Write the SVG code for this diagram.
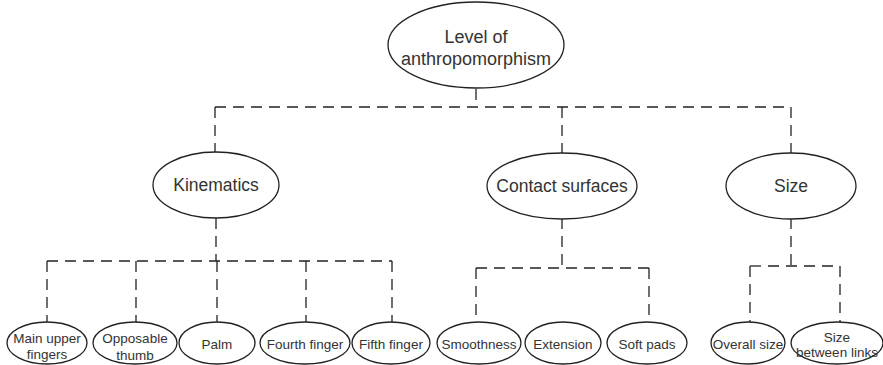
<svg xmlns="http://www.w3.org/2000/svg" width="883" height="365" viewBox="0 0 883 365">
<style>
.n{fill:#fff;stroke:#222;stroke-width:1.3}
.t{font-family:"Liberation Sans",Arial,sans-serif;fill:#333;text-anchor:middle}
.t1{font-size:18px}
.t2{font-size:17.5px}
.t3{font-size:13.5px}
.c{fill:none;stroke:#222;stroke-width:1.3;stroke-dasharray:11 7}
</style>
<rect width="883" height="365" fill="#fff"/>
<g id="connectors">
<path class="c" d="M476 89V107"/>
<path class="c" d="M215 107H791"/>
<path class="c" d="M215 107V153"/>
<path class="c" d="M562 107V153"/>
<path class="c" d="M791 107V153"/>
<path class="c" d="M216 218V261"/>
<path class="c" d="M47 261H392"/>
<path class="c" d="M47 261V323M136 261V323M217 261V323M306 261V323M392 261V323"/>
<path class="c" d="M562 218V268"/>
<path class="c" d="M476 268H649"/>
<path class="c" d="M476 268V323M649 268V323"/>
<path class="c" d="M791 218V266"/>
<path class="c" d="M750 266H840"/>
<path class="c" d="M750 266V323M840 266V323"/>
</g>
<g id="root">
<ellipse class="n" cx="476" cy="45" rx="88" ry="43"/>
<text class="t t1" x="476" y="43">Level of</text>
<text class="t t1" x="476" y="65">anthropomorphism</text>
</g>
<g id="kinematics">
<ellipse class="n" cx="216" cy="185" rx="63" ry="33"/>
<text class="t t2" x="216" y="191">Kinematics</text>
</g>
<g id="contact">
<ellipse class="n" cx="562" cy="186" rx="75" ry="33"/>
<text class="t t2" x="562" y="192">Contact surfaces</text>
</g>
<g id="size">
<ellipse class="n" cx="791" cy="186" rx="65" ry="33"/>
<text class="t t2" x="791" y="192">Size</text>
</g>
<g id="main-upper">
<ellipse class="n" cx="47" cy="343" rx="40" ry="21"/>
<text class="t t3" x="47" y="343">Main upper</text>
<text class="t t3" x="47" y="359">fingers</text>
</g>
<g id="opposable">
<ellipse class="n" cx="135" cy="343" rx="42" ry="21"/>
<text class="t t3" x="135" y="343">Opposable</text>
<text class="t t3" x="135" y="360">thumb</text>
</g>
<g id="palm">
<ellipse class="n" cx="217" cy="343" rx="38" ry="21"/>
<text class="t t3" x="217" y="349">Palm</text>
</g>
<g id="fourth">
<ellipse class="n" cx="305" cy="343" rx="45" ry="21"/>
<text class="t t3" x="305" y="349">Fourth finger</text>
</g>
<g id="fifth">
<ellipse class="n" cx="391" cy="343" rx="39" ry="21"/>
<text class="t t3" x="391" y="349">Fifth finger</text>
</g>
<g id="smoothness">
<ellipse class="n" cx="479" cy="343" rx="42" ry="21"/>
<text class="t t3" x="479" y="349">Smoothness</text>
</g>
<g id="extension">
<ellipse class="n" cx="563" cy="343" rx="38" ry="21"/>
<text class="t t3" x="563" y="349">Extension</text>
</g>
<g id="soft-pads">
<ellipse class="n" cx="647" cy="343" rx="40" ry="21"/>
<text class="t t3" x="647" y="349">Soft pads</text>
</g>
<g id="overall-size">
<ellipse class="n" cx="748" cy="343" rx="37" ry="21"/>
<text class="t t3" x="748" y="349">Overall size</text>
</g>
<g id="size-between">
<ellipse class="n" cx="837" cy="343" rx="46" ry="21"/>
<text class="t t3" x="837" y="342">Size</text>
<text class="t t3" x="837" y="357">between links</text>
</g>
</svg>
